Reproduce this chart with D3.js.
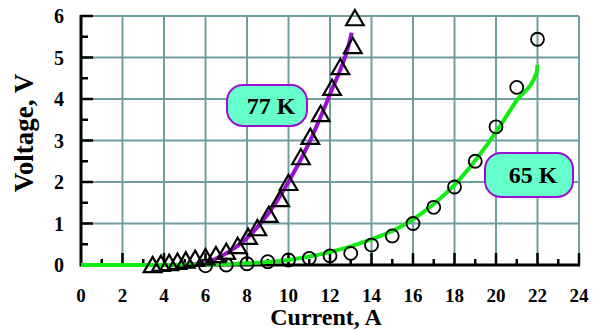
<!DOCTYPE html>
<html><head><meta charset="utf-8">
<script src="https://cdn.jsdelivr.net/npm/d3@7"></script>
<style>body{margin:0;background:#fff}svg{display:block}</style>
</head><body>
<script>
// ---- data ----
const xTicks = [0,2,4,6,8,10,12,14,16,18,20,22,24];
const yTicks = [0,1,2,3,4,5,6];
// 77 K measured points (triangles)
const tri77I = [3.45,3.85,4.25,4.65,5.05,5.5,6.0,6.5,7.0,7.55,8.05,8.5,9.05,9.6,10.0,10.6,11.05,11.55,12.1,12.5,13.1,13.2];
const tri77V = [-0.05,-0.02,0.0,0.03,0.06,0.1,0.14,0.19,0.27,0.41,0.63,0.84,1.16,1.54,1.93,2.55,3.04,3.59,4.22,4.72,5.23,5.9];
// 65 K measured points (circles)
const circ65I = [6,7,8,9,10,11,12,13,14,15,16,17,18,19,20,21,22];
const circ65V = [-0.02,0.0,0.03,0.08,0.12,0.16,0.22,0.28,0.48,0.7,1.0,1.39,1.88,2.5,3.33,4.28,5.44];
// fit curves
const fit77I = [4.0,5.0,5.5,6.0,7.0,8.0,9.0,10.0,11.0,12.0,12.9,13.05];
const fit77V = [0.0,0.0,0.02,0.06,0.28,0.65,1.22,2.0,2.95,4.12,5.3,5.6];
const fit65I = [0,4,6,8,10,12,14,15,16,17,18,19,20,21,21.95,22];
const fit65V = [0,0,0.01,0.04,0.12,0.31,0.62,0.82,1.1,1.47,1.93,2.52,3.2,3.97,4.62,4.82];
const labels = [{text:"77 K", x:227, y:85, w:80, h:41}, {text:"65 K", x:485, y:153, w:88, h:44}];

const W=600,H=330;
const svg=d3.select("body").append("svg").attr("width",W).attr("height",H);
const x=d3.scaleLinear().domain([0,24]).range([81,579]);
const y=d3.scaleLinear().domain([0,6]).range([265,16]);
const grid="#6e9e9e";

// gridlines
svg.append("g").selectAll("line").data(xTicks.slice(1)).join("line")
  .attr("x1",d=>x(d)).attr("x2",d=>x(d)).attr("y1",y(6)).attr("y2",y(0))
  .attr("stroke",grid).attr("stroke-width",2);
svg.append("g").selectAll("line").data(yTicks.slice(1)).join("line")
  .attr("x1",x(0)).attr("x2",x(24)).attr("y1",d=>y(d)).attr("y2",d=>y(d))
  .attr("stroke",grid).attr("stroke-width",2);

// axes (custom inner ticks)
const xMinor=d3.range(1,24,2), yMinor=d3.range(0.5,6,1);
const ax=svg.append("g");
ax.selectAll(".xm").data(xTicks.slice(1)).join("line")
  .attr("x1",d=>x(d)).attr("x2",d=>x(d)).attr("y1",y(0)).attr("y2",y(0)-12)
  .attr("stroke","#000").attr("stroke-width",2.5);
ax.selectAll(".xn").data(xMinor).join("line")
  .attr("x1",d=>x(d)).attr("x2",d=>x(d)).attr("y1",y(0)).attr("y2",y(0)-6)
  .attr("stroke","#000").attr("stroke-width",2.5);
ax.selectAll(".ym").data(yTicks.slice(1)).join("line")
  .attr("x1",x(0)).attr("x2",x(0)+12).attr("y1",d=>y(d)).attr("y2",d=>y(d))
  .attr("stroke","#000").attr("stroke-width",2.5);
ax.selectAll(".yn").data(yMinor).join("line")
  .attr("x1",x(0)).attr("x2",x(0)+7).attr("y1",d=>y(d)).attr("y2",d=>y(d))
  .attr("stroke","#000").attr("stroke-width",2.5);
ax.append("line").attr("x1",x(0)).attr("x2",x(24)+1).attr("y1",y(0)).attr("y2",y(0))
  .attr("stroke","#000").attr("stroke-width",3);
ax.append("line").attr("x1",x(0)).attr("x2",x(0)).attr("y1",y(6)-1).attr("y2",y(0)+1.5)
  .attr("stroke","#000").attr("stroke-width",3);

const font="'Liberation Serif','Times New Roman',serif";
ax.selectAll(".xl").data(xTicks).join("text")
  .attr("x",d=>x(d)).attr("y",302).attr("text-anchor","middle")
  .attr("font-family",font).attr("font-weight","bold").attr("font-size",19).text(d=>d);
ax.selectAll(".yl").data(yTicks).join("text")
  .attr("x",64).attr("y",d=>y(d)+7).attr("text-anchor","end")
  .attr("font-family",font).attr("font-weight","bold").attr("font-size",20).text(d=>d);
svg.append("text").attr("x",326).attr("y",325).attr("text-anchor","middle")
  .attr("font-family",font).attr("font-weight","bold").attr("font-size",24).text("Current, A");
svg.append("text").attr("transform","translate(33,133) rotate(-90)").attr("text-anchor","middle")
  .attr("font-family",font).attr("font-weight","bold").attr("font-size",27).text("Voltage, V");

// curves
const line=d3.line().x(d=>x(d[0])).y(d=>y(d[1])).curve(d3.curveMonotoneX);
svg.append("path").datum(d3.zip(fit77I,fit77V)).attr("d",line)
  .attr("fill","none").attr("stroke","#9b0fd0").attr("stroke-width",4);
svg.append("path").datum(d3.zip(fit65I,fit65V)).attr("d",line)
  .attr("fill","none").attr("stroke","#12ec12").attr("stroke-width",4);

// markers
svg.append("g").selectAll("circle").data(d3.zip(circ65I,circ65V)).join("circle")
  .attr("cx",d=>x(d[0])).attr("cy",d=>y(d[1])).attr("r",6.5)
  .attr("fill","none").attr("stroke","#000").attr("stroke-width",1.8);
const tri=d3.symbol().type(d3.symbolTriangle).size(135);
svg.append("g").selectAll("path").data(d3.zip(tri77I,tri77V)).join("path")
  .attr("d",tri).attr("transform",d=>`translate(${x(d[0])},${y(d[1])})`)
  .attr("fill","none").attr("stroke","#000").attr("stroke-width",2.2);

// labels
const lg=svg.append("g").selectAll("g").data(labels).join("g");
lg.append("rect").attr("x",d=>d.x).attr("y",d=>d.y).attr("width",d=>d.w).attr("height",d=>d.h)
  .attr("rx",16).attr("fill","#66ffcc").attr("stroke","#9b0fd0").attr("stroke-width",2);
lg.append("text").attr("x",d=>d.x+d.w/2+4).attr("y",d=>d.y+d.h/2+8).attr("text-anchor","middle")
  .attr("font-family",font).attr("font-weight","bold").attr("font-size",24).text(d=>d.text);
</script>
</body></html>
